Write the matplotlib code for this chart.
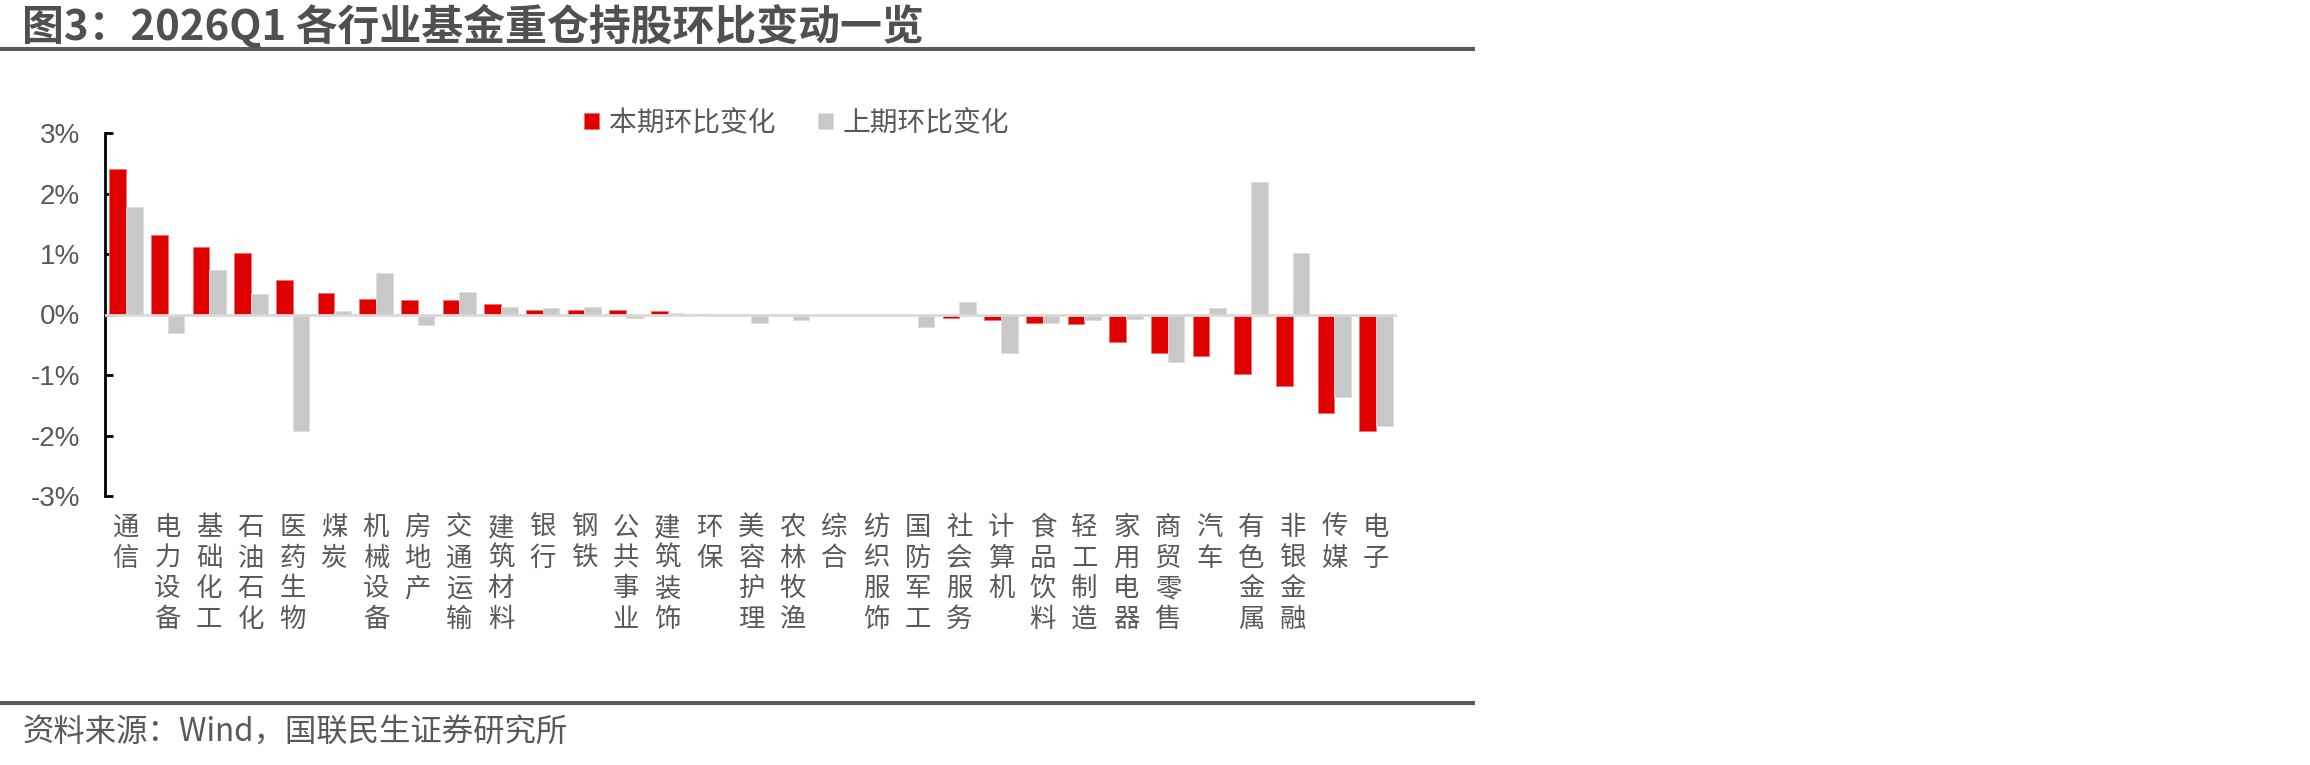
import matplotlib
matplotlib.use("Agg")
import matplotlib.pyplot as plt
from matplotlib.lines import Line2D

plt.rcParams['font.family'] = ['Noto Sans CJK SC', 'DejaVu Sans']

# ---------------- data ----------------
categories = ["通信", "电力设备", "基础化工", "石油石化", "医药生物", "煤炭", "机械设备",
              "房地产", "交通运输", "建筑材料", "银行", "钢铁", "公共事业", "建筑装饰",
              "环保", "美容护理", "农林牧渔", "综合", "纺织服饰", "国防军工", "社会服务",
              "计算机", "食品饮料", "轻工制造", "家用电器", "商贸零售", "汽车", "有色金属",
              "非银金融", "传媒", "电子"]
current_change = [2.41, 1.32, 1.12, 1.02, 0.57, 0.35, 0.25, 0.24, 0.24, 0.18, 0.08,
                  0.07, 0.07, 0.06, 0.01, 0.0, 0.0, 0.0, 0.0, -0.01, -0.06, -0.09,
                  -0.14, -0.15, -0.46, -0.63, -0.69, -0.99, -1.19, -1.62, -1.93]
previous_change = [1.78, -0.31, 0.74, 0.34, -1.92, 0.06, 0.69, -0.18, 0.37, 0.12, 0.10,
                   0.13, -0.05, 0.03, 0.0, -0.14, -0.09, 0.0, 0.0, -0.21, 0.20, -0.64,
                   -0.14, -0.09, -0.07, -0.79, 0.10, 2.19, 1.02, -1.36, -1.84]
series_names = ["本期环比变化", "上期环比变化"]
ytick_values = [-3, -2, -1, 0, 1, 2, 3]
ytick_labels = ["-3%", "-2%", "-1%", "0%", "1%", "2%", "3%"]
title_text = "图3：2026Q1 各行业基金重仓持股环比变动一览"
source_text = "资料来源：Wind，国联民生证券研究所"

# ---------------- styling ----------------
W, H = 2310, 765
DPI = 100
RED = "#E00000"
GRAY = "#C8C8C8"
TXT = "#595959"

fig = plt.figure(figsize=(W / DPI, H / DPI), dpi=DPI)
ax = fig.add_axes([105 / W, 1 - 496 / H, (1397 - 105) / W, (496 - 133) / H])

x = list(range(len(categories)))
bw = 0.4
b1 = ax.bar([i - bw / 2 for i in x], current_change, width=bw, color=RED,
            edgecolor="#F07070", linewidth=0.6, zorder=2, label=series_names[0])
b2 = ax.bar([i + bw / 2 for i in x], previous_change, width=bw, color=GRAY,
            edgecolor="#DCDCDC", linewidth=0.6, zorder=2, label=series_names[1])
ax.axhline(0, color="#D9D9D9", linewidth=2.0, zorder=3)

ax.set_xlim(-0.5, len(categories) - 0.5)
ax.set_ylim(-3, 3)
for s in ["top", "right", "bottom"]:
    ax.spines[s].set_visible(False)
ax.spines["left"].set_color("black")
ax.spines["left"].set_linewidth(2.0)
ax.spines["left"].set_bounds(-3, 3)

ax.set_yticks(ytick_values)
ax.set_yticklabels(ytick_labels, fontsize=20, color=TXT, family=["Liberation Sans"])
ax.tick_params(axis="y", direction="in", length=6, width=2.0, color="black", pad=18)

ax.set_xticks(x)
ax.set_xticklabels(["\n".join(c) for c in categories], fontsize=19, color=TXT,
                   linespacing=1.17, va="top")
ax.tick_params(axis="x", length=0, pad=13)

leg = fig.legend(handles=[b1, b2], labels=series_names, loc="center left",
                 bbox_to_anchor=(584 / W, 1 - 123 / H), frameon=False, ncol=2,
                 handlelength=0.53, handleheight=0.53, handletextpad=0.36,
                 columnspacing=1.55, borderpad=0, borderaxespad=0,
                 prop={"size": 20})
for t in leg.get_texts():
    t.set_color(TXT)

# title and rules
fig.text(22 / W, 1 - 27 / H, title_text, fontsize=30.2, fontweight="bold",
         color="#505050", ha="left", va="center")
fig.add_artist(Line2D([0, 1473 / W], [1 - 49 / H, 1 - 49 / H], color="#595959",
                      linewidth=2.9, transform=fig.transFigure))
fig.add_artist(Line2D([0, 1473 / W], [1 - 703 / H, 1 - 703 / H], color="#595959",
                      linewidth=2.9, transform=fig.transFigure))
fig.text(22 / W, 1 - 733 / H, source_text, fontsize=22.6, color=TXT,
         ha="left", va="center")

fig.savefig("out.png", dpi=DPI)
